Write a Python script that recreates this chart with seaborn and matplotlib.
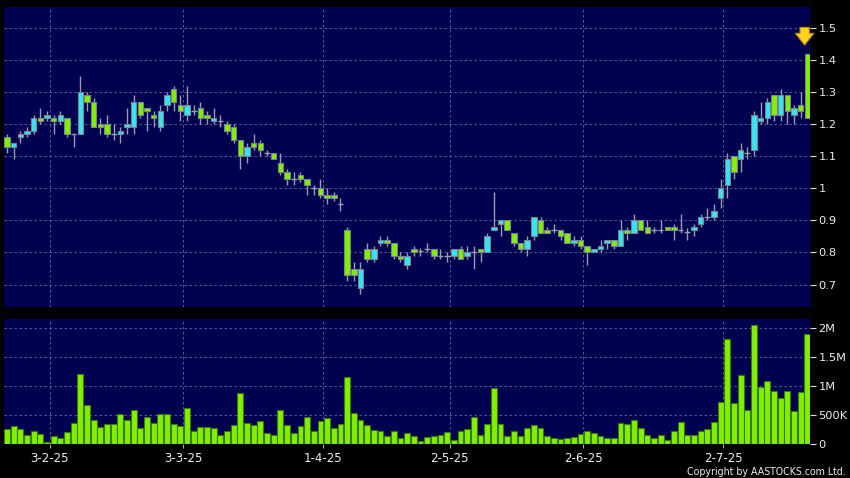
import numpy as np
import pandas as pd
import matplotlib
matplotlib.use("Agg")
import matplotlib.pyplot as plt
import seaborn as sns

# daily OHLC, 21-1-25 .. 21-7-25 (121 sessions)
opens = [1.16, 1.13, 1.16, 1.17, 1.18, 1.22, 1.22, 1.22, 1.21, 1.22,
         1.17, 1.17, 1.29, 1.27, 1.20, 1.20, 1.17, 1.17, 1.19, 1.19,
         1.27, 1.25, 1.23, 1.19, 1.26, 1.31, 1.26, 1.23, 1.24, 1.25,
         1.23, 1.21, 1.21, 1.20, 1.19, 1.15, 1.10, 1.14, 1.14, 1.11,
         1.11, 1.08, 1.05, 1.03, 1.04, 1.03, 1.00, 1.00, 0.98, 0.98,
         0.95, 0.87, 0.75, 0.69, 0.81, 0.78, 0.83, 0.84, 0.83, 0.79,
         0.76, 0.81, 0.805, 0.81, 0.81, 0.79, 0.79, 0.79, 0.81, 0.79,
         0.80, 0.81, 0.80, 0.87, 0.89, 0.90, 0.86, 0.83, 0.81, 0.85,
         0.90, 0.87, 0.87, 0.87, 0.86, 0.83, 0.84, 0.82, 0.80, 0.81,
         0.83, 0.84, 0.82, 0.87, 0.86, 0.90, 0.88, 0.87, 0.87, 0.88,
         0.88, 0.87, 0.865, 0.87, 0.89, 0.91, 0.91, 0.97, 1.01, 1.10,
         1.09, 1.11, 1.12, 1.21, 1.22, 1.29, 1.23, 1.29, 1.23, 1.26,
         1.42]
highs = [1.17, 1.14, 1.18, 1.19, 1.23, 1.25, 1.24, 1.23, 1.24, 1.22,
         1.17, 1.35, 1.30, 1.28, 1.22, 1.23, 1.20, 1.19, 1.25, 1.29,
         1.27, 1.25, 1.24, 1.26, 1.30, 1.32, 1.29, 1.32, 1.26, 1.27,
         1.24, 1.25, 1.23, 1.21, 1.20, 1.15, 1.14, 1.17, 1.15, 1.12,
         1.11, 1.11, 1.06, 1.05, 1.05, 1.03, 1.01, 1.03, 1.00, 0.99,
         0.97, 0.88, 0.77, 0.77, 0.83, 0.82, 0.85, 0.85, 0.83, 0.80,
         0.80, 0.82, 0.815, 0.83, 0.81, 0.81, 0.80, 0.81, 0.82, 0.82,
         0.82, 0.81, 0.86, 0.99, 0.90, 0.90, 0.86, 0.83, 0.85, 0.91,
         0.91, 0.88, 0.89, 0.87, 0.86, 0.85, 0.85, 0.82, 0.81, 0.84,
         0.84, 0.84, 0.90, 0.88, 0.92, 0.90, 0.90, 0.88, 0.90, 0.88,
         0.89, 0.92, 0.875, 0.89, 0.92, 0.94, 0.95, 1.03, 1.11, 1.10,
         1.14, 1.13, 1.24, 1.27, 1.28, 1.29, 1.31, 1.29, 1.26, 1.30,
         1.42]
lows = [1.11, 1.09, 1.14, 1.16, 1.17, 1.20, 1.21, 1.17, 1.20, 1.16,
        1.13, 1.17, 1.24, 1.19, 1.17, 1.16, 1.15, 1.14, 1.17, 1.17,
        1.22, 1.18, 1.19, 1.18, 1.24, 1.24, 1.21, 1.21, 1.23, 1.20,
        1.20, 1.20, 1.19, 1.17, 1.14, 1.06, 1.08, 1.12, 1.10, 1.10,
        1.09, 1.04, 1.01, 1.01, 1.02, 0.98, 0.98, 0.97, 0.95, 0.96,
        0.93, 0.71, 0.71, 0.67, 0.77, 0.77, 0.82, 0.82, 0.78, 0.77,
        0.75, 0.79, 0.79, 0.80, 0.78, 0.78, 0.77, 0.78, 0.78, 0.78,
        0.75, 0.77, 0.80, 0.87, 0.85, 0.87, 0.82, 0.80, 0.79, 0.84,
        0.86, 0.86, 0.86, 0.84, 0.83, 0.82, 0.81, 0.76, 0.80, 0.80,
        0.81, 0.81, 0.82, 0.84, 0.86, 0.87, 0.86, 0.86, 0.86, 0.87,
        0.84, 0.86, 0.84, 0.85, 0.88, 0.90, 0.90, 0.94, 0.97, 1.03,
        1.05, 1.09, 1.10, 1.20, 1.20, 1.21, 1.21, 1.20, 1.20, 1.22,
        1.22]
closes = [1.13, 1.14, 1.17, 1.18, 1.22, 1.21, 1.23, 1.21, 1.23, 1.17,
          1.17, 1.30, 1.27, 1.19, 1.19, 1.17, 1.17, 1.18, 1.20, 1.27,
          1.23, 1.24, 1.22, 1.24, 1.29, 1.27, 1.24, 1.26, 1.24, 1.22,
          1.22, 1.22, 1.21, 1.18, 1.15, 1.10, 1.13, 1.13, 1.12, 1.11,
          1.09, 1.05, 1.03, 1.03, 1.03, 1.01, 1.00, 0.98, 0.97, 0.97,
          0.95, 0.73, 0.73, 0.75, 0.78, 0.81, 0.84, 0.83, 0.79, 0.78,
          0.79, 0.80, 0.805, 0.81, 0.79, 0.79, 0.79, 0.81, 0.78, 0.80,
          0.80, 0.80, 0.85, 0.88, 0.90, 0.87, 0.83, 0.81, 0.84, 0.91,
          0.86, 0.86, 0.87, 0.85, 0.83, 0.84, 0.82, 0.80, 0.81, 0.82,
          0.84, 0.82, 0.87, 0.86, 0.90, 0.87, 0.86, 0.87, 0.87, 0.87,
          0.87, 0.87, 0.865, 0.88, 0.91, 0.91, 0.93, 1.00, 1.09, 1.05,
          1.12, 1.11, 1.23, 1.22, 1.27, 1.23, 1.29, 1.24, 1.25, 1.24,
          1.22]
# volume in millions of shares
volumes = [0.25, 0.31, 0.25, 0.16, 0.23, 0.18, 0.04, 0.13, 0.11, 0.20,
           0.37, 1.20, 0.67, 0.42, 0.30, 0.34, 0.35, 0.51, 0.41, 0.58,
           0.28, 0.46, 0.37, 0.51, 0.51, 0.34, 0.31, 0.62, 0.23, 0.30,
           0.29, 0.28, 0.16, 0.22, 0.32, 0.87, 0.36, 0.32, 0.39, 0.19,
           0.15, 0.58, 0.33, 0.19, 0.31, 0.46, 0.23, 0.40, 0.45, 0.28,
           0.35, 1.15, 0.53, 0.41, 0.33, 0.24, 0.23, 0.14, 0.23, 0.10,
           0.19, 0.14, 0.06, 0.12, 0.13, 0.15, 0.20, 0.07, 0.22, 0.26,
           0.46, 0.16, 0.34, 0.96, 0.34, 0.13, 0.23, 0.14, 0.27, 0.33,
           0.27, 0.13, 0.11, 0.09, 0.10, 0.12, 0.18, 0.22, 0.19, 0.14,
           0.11, 0.10, 0.37, 0.34, 0.41, 0.28, 0.15, 0.11, 0.16, 0.07,
           0.22, 0.38, 0.15, 0.16, 0.23, 0.25, 0.38, 0.73, 1.81, 0.71,
           1.18, 0.59, 2.04, 0.98, 1.08, 0.92, 0.79, 0.92, 0.56, 0.89,
           1.89]
tick_labels = ["3-2-25", "3-3-25", "1-4-25", "2-5-25", "2-6-25", "2-7-25"]
tick_index = [6, 26, 47, 66, 86, 107]
price_ticks = [0.7, 0.8, 0.9, 1.0, 1.1, 1.2, 1.3, 1.4, 1.5]
vol_ticks = [0, 0.5, 1.0, 1.5, 2.0]
vol_tick_labels = ["0", "500K", "1M", "1.5M", "2M"]

df = pd.DataFrame({"open": opens, "high": highs, "low": lows,
                   "close": closes, "volume": volumes})
df["idx"] = np.arange(len(df))

NAVY = "#000050"
UP = "#33e6f2"
DOWN = "#80f000"
GRID = "#6a6a9c"

sns.set_theme(style="dark", rc={"axes.facecolor": NAVY, "figure.facecolor": "black"})
plt.rcParams["font.family"] = ["DejaVu Sans"]

fig = plt.figure(figsize=(8.5, 4.78), dpi=100)
ax = fig.add_axes([0.0047, 0.3577, 0.9482, 0.6276])
ax2 = fig.add_axes([0.0047, 0.0711, 0.9482, 0.2615])

# price panel
body = df[df["open"] != df["close"]]
doji = df[df["open"] == df["close"]]
ax.vlines(df["idx"], df["low"], df["high"], color="#9a9ab0", lw=1.0, zorder=2)
colors = np.where(body["close"] > body["open"], UP, DOWN)
ax.bar(body["idx"], (body["close"] - body["open"]).abs(),
       bottom=body[["open", "close"]].min(axis=1), width=0.82,
       color=colors, edgecolor="#7a8290", linewidth=0.8, zorder=3)
ax.hlines(doji["open"], doji["idx"] - 0.42, doji["idx"] + 0.42,
          color="#9a9ab0", lw=1.0, zorder=3)

last = df.iloc[-1]
ax.annotate("", xy=(last["idx"] - 0.4, last["high"] + 0.018),
            xytext=(last["idx"] - 0.4, last["high"] + 0.09),
            arrowprops=dict(arrowstyle="simple,head_width=1.1,head_length=0.7,tail_width=0.55",
                            fc="#ffd21f", ec="#c88a00", lw=0.8), zorder=5)

ax.set_ylim(0.63, 1.565)
ax.set_yticks(price_ticks)
ax.set_yticklabels([f"{v:g}" for v in price_ticks])

# volume panel
sns.barplot(x=df["idx"], y=df["volume"], color=DOWN, saturation=1, width=0.88,
            edgecolor="#3c7800", linewidth=0.8, ax=ax2, zorder=3)
ax2.set_ylim(0, 2.15)
ax2.set_yticks(vol_ticks)
ax2.set_yticklabels(vol_tick_labels)

for a in (ax, ax2):
    a.set_xlim(-0.45, 120.4)
    a.set_xticks([i + 0.4 for i in tick_index])
    a.yaxis.tick_right()
    a.set_xlabel("")
    a.set_ylabel("")
    a.grid(True, color=GRID, lw=0.6, ls=(0, (3, 3)), zorder=0)
    a.set_axisbelow(True)
    for s in a.spines.values():
        s.set_visible(False)
    a.tick_params(axis="y", which="both", right=True, left=False, length=4,
                  width=0.8, color="#dddddd", labelcolor="#eeeeee",
                  labelsize=8.2, pad=2)

ax.tick_params(axis="x", bottom=False, labelbottom=False)
ax2.set_xticklabels(tick_labels)
ax2.tick_params(axis="x", bottom=True, length=3, width=0.8, color="#aaaaaa",
                labelcolor="#eeeeee", labelsize=8.5, pad=3)

fig.text(0.995, 0.003, "Copyright by AASTOCKS.com Ltd.", ha="right", va="bottom",
         color="#eeeeee", fontsize=7.6,
         family=["Liberation Sans Narrow", "DejaVu Sans"], stretch="condensed")

fig.savefig("out.png", dpi=100, facecolor="black")
